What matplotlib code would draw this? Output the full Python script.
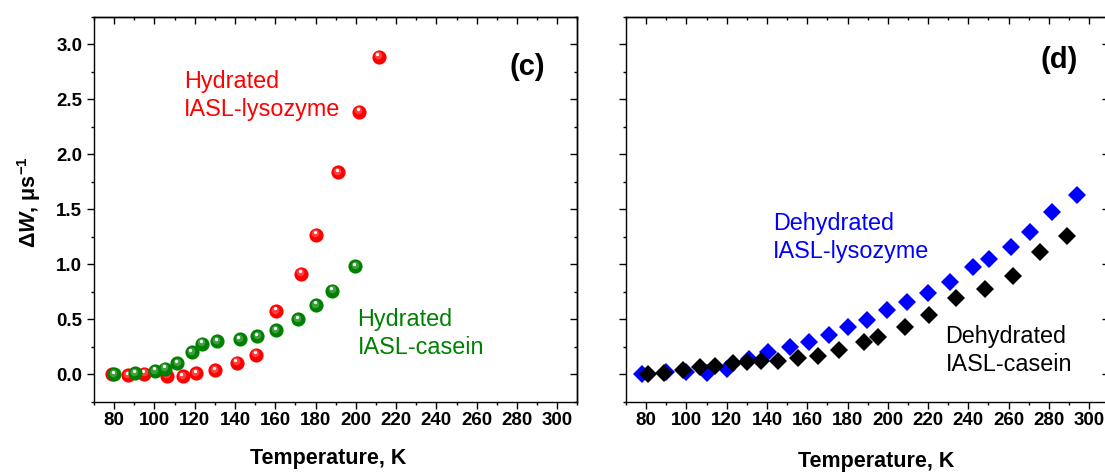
import matplotlib
matplotlib.use("Agg")
import matplotlib.pyplot as plt
from matplotlib.ticker import MultipleLocator, FormatStrFormatter
from matplotlib.transforms import offset_copy
from matplotlib.colors import to_rgb

plt.rcParams.update({
    "font.family": ["Liberation Sans", "DejaVu Sans"],
    "font.weight": "bold",
    "axes.labelweight": "bold",
    "mathtext.fontset": "custom",
    "mathtext.rm": "Liberation Sans:bold",
    "mathtext.it": "Liberation Sans:italic:bold",
    "mathtext.bf": "Liberation Sans:bold",
    "axes.linewidth": 1.0,
})

# (c) hydrated samples
t_hyd_lys = [79, 87, 95, 106, 114, 120.6, 130, 140.8, 150.4, 160.3, 172.9, 180.2, 191.3, 201.7, 211.3]
w_hyd_lys = [0.0, -0.01, 0.005, -0.012, -0.02, 0.008, 0.038, 0.106, 0.178, 0.575, 0.915, 1.27, 1.836, 2.385, 2.887]
t_hyd_cas = [80, 90.3, 100.3, 105.3, 111.4, 118.4, 123.5, 131.2, 142.3, 151.1, 160.3, 171.2, 180.3, 188.4, 199.8]
w_hyd_cas = [0.0, 0.01, 0.03, 0.05, 0.1, 0.2, 0.278, 0.30, 0.318, 0.345, 0.40, 0.50, 0.63, 0.76, 0.98]

# (d) dehydrated samples
t_dry_lys = [78, 90, 100, 110, 120.4, 131, 140.5, 151.2, 160.7, 170.6, 180.2, 189.7, 199.6, 209.5,
             219.8, 230.7, 242.3, 250.1, 261.2, 270.8, 281.6, 294.0]
w_dry_lys = [0.005, 0.02, 0.02, 0.015, 0.045, 0.14, 0.206, 0.251, 0.29, 0.357, 0.433, 0.494, 0.585, 0.655,
             0.742, 0.842, 0.973, 1.048, 1.16, 1.297, 1.479, 1.63]
t_dry_cas = [80.8, 89, 98.3, 107, 114, 123, 130, 137.2, 145.5, 155.2, 165.1, 176, 188, 195.1,
             208.4, 220.4, 234, 248.1, 262, 275.6, 289.2]
w_dry_cas = [0.0, 0.01, 0.04, 0.065, 0.075, 0.1, 0.115, 0.12, 0.122, 0.145, 0.17, 0.22, 0.29, 0.336,
             0.43, 0.542, 0.693, 0.773, 0.894, 1.112, 1.26]

RED, GREEN, BLUE, BLACK = "#FF0000", "#008000", "#0000FF", "#000000"


def lighten(c, f):
    r, g, b = to_rgb(c)
    return (r + (1 - r) * f, g + (1 - g) * f, b + (1 - b) * f)


def spheres(ax, fig, x, y, color):
    # shaded ball: base disc + lighter core + white glint
    ax.plot(x, y, "o", ms=10.2, color=color, mec=color, mew=0, zorder=3)
    t1 = offset_copy(ax.transData, fig=fig, x=-0.6, y=1.0, units="points")
    ax.plot(x, y, "o", ms=5.5, color=lighten(color, 0.35), mew=0, alpha=0.7, transform=t1, zorder=3)
    t2 = offset_copy(ax.transData, fig=fig, x=-0.9, y=1.8, units="points")
    ax.plot(x, y, "o", ms=2.4, color="white", mew=0, transform=t2, zorder=3)


def style(ax, ylabels):
    ax.set_xlim(70, 310)
    ax.set_ylim(-0.25, 3.25)
    ax.xaxis.set_major_locator(MultipleLocator(20))
    ax.xaxis.set_minor_locator(MultipleLocator(10))
    ax.yaxis.set_major_locator(MultipleLocator(0.5))
    ax.yaxis.set_minor_locator(MultipleLocator(0.25))
    ax.yaxis.set_major_formatter(FormatStrFormatter("%.1f"))
    ax.tick_params(which="both", direction="out", width=1.0, labelsize=13.5,
                   top=False, right=False, colors="black")
    ax.tick_params(which="major", length=5)
    ax.tick_params(which="minor", length=2.5)
    ax.tick_params(axis="x", pad=2.5)
    ax.tick_params(axis="y", pad=3.5, labelleft=ylabels)
    # top / right ticks point inward
    top = ax.secondary_xaxis("top")
    top.xaxis.set_major_locator(MultipleLocator(20))
    top.xaxis.set_minor_locator(MultipleLocator(10))
    top.tick_params(which="both", direction="in", width=1.0, labeltop=False)
    top.tick_params(which="major", length=5)
    top.tick_params(which="minor", length=2.5)
    rgt = ax.secondary_yaxis("right")
    rgt.yaxis.set_major_locator(MultipleLocator(0.5))
    rgt.yaxis.set_minor_locator(MultipleLocator(0.25))
    rgt.tick_params(which="both", direction="in", width=1.0, labelright=False)
    rgt.tick_params(which="major", length=5)
    rgt.tick_params(which="minor", length=2.5)


fig = plt.figure(figsize=(11.05, 4.73), dpi=100)
ax1 = fig.add_axes([0.0851, 0.1507, 0.4374, 0.8140])
ax2 = fig.add_axes([0.5665, 0.1507, 0.4374, 0.8140])

# ---- (c)
spheres(ax1, fig, t_hyd_lys, w_hyd_lys, RED)
spheres(ax1, fig, t_hyd_cas, w_hyd_cas, GREEN)
style(ax1, True)
ax1.set_ylabel(r"$\Delta\mathit{W}$, μs$^{-1}$", fontsize=15.5, fontweight="bold")
ax1.yaxis.set_label_coords(-0.1345, 0.519)
ax1.yaxis.label.set_va("center")
ax1.set_xlabel("Temperature, K", fontsize=15.5, fontweight="bold")
ax1.xaxis.set_label_coords(0.4836, -0.147)
ax1.xaxis.label.set_va("center")
ax1.text(114.5, 2.766, "Hydrated\nIASL-lysozyme", color=RED, fontsize=16.8,
         fontweight="normal", va="top", ha="left", linespacing=1.3)
ax1.text(200.8, 0.605, "Hydrated\nIASL-casein", color=GREEN, fontsize=16.8,
         fontweight="normal", va="top", ha="left", linespacing=1.3)
ax1.text(0.896, 0.870, "(c)", transform=ax1.transAxes, fontsize=21,
         fontweight="bold", ha="center", va="center")

# ---- (d)
ax2.plot(t_dry_lys, w_dry_lys, "D", ms=9.0, color=BLUE, mew=0, zorder=3)
ax2.plot(t_dry_cas, w_dry_cas, "D", ms=9.0, color=BLACK, mew=0, zorder=4)
style(ax2, False)
ax2.set_xlabel("Temperature, K", fontsize=15.5, fontweight="bold")
ax2.xaxis.set_label_coords(0.518, -0.156)
ax2.xaxis.label.set_va("center")
ax2.text(142.9, 1.478, "Dehydrated\nIASL-lysozyme", color=BLUE, fontsize=16.8,
         fontweight="normal", va="top", ha="left", linespacing=1.3)
ax2.text(228.6, 0.448, "Dehydrated\nIASL-casein", color=BLACK, fontsize=16.8,
         fontweight="normal", va="top", ha="left", linespacing=1.3)
ax2.text(0.897, 0.888, "(d)", transform=ax2.transAxes, fontsize=21,
         fontweight="bold", ha="center", va="center")

fig.savefig("out.png", dpi=100, facecolor="white")
